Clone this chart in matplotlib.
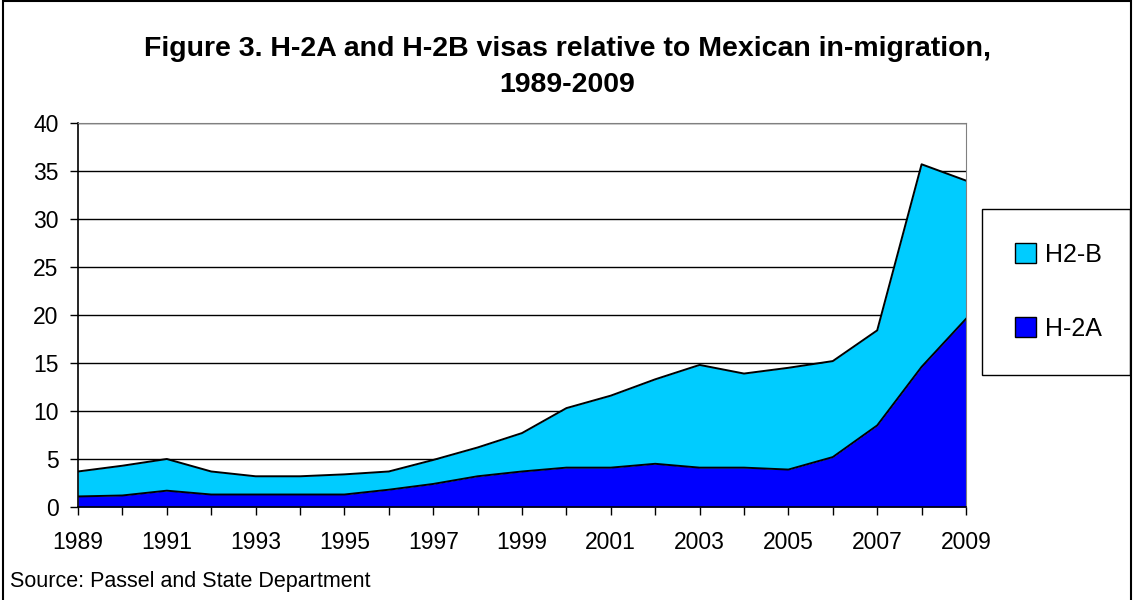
import matplotlib.pyplot as plt
import matplotlib.patches as mpatches
import numpy as np

plt.rcParams["font.family"] = ["Liberation Sans", "DejaVu Sans"]

years = list(range(1989, 2010))
# H-2A share (bottom layer)
h2a = [1.1, 1.2, 1.7, 1.3, 1.3, 1.3, 1.3, 1.8, 2.4, 3.2, 3.7, 4.1, 4.1, 4.5, 4.1, 4.1, 3.9, 5.2, 8.5, 14.6, 19.6]
# stacked total (H-2A + H2-B)
total = [3.7, 4.3, 5.0, 3.7, 3.2, 3.2, 3.4, 3.7, 4.9, 6.2, 7.7, 10.3, 11.6, 13.3, 14.8, 13.9, 14.5, 15.2, 18.4, 35.7, 34.0]
h2b = [t - a for t, a in zip(total, h2a)]

col_a = "#0000FF"
col_b = "#00CCFF"

fig = plt.figure(figsize=(11.34, 6.0), dpi=100)
ax = fig.add_axes([78/1134, 93/600, 888/1134, 384/600])

x = np.array(years)
a = np.array(h2a)
b = np.array(h2b)
ax.fill_between(x, 0, a, color=col_a, lw=0)
ax.fill_between(x, a, a + b, color=col_b, lw=0)
ax.plot(x, a, color="black", lw=1.4)
ax.plot(x, a + b, color="black", lw=1.4)

ax.set_xlim(1989, 2009)
ax.set_ylim(0, 40)
ax.set_yticks(range(0, 41, 5))
ax.set_xticks(years, minor=True)
ax.set_xticks(range(1989, 2010, 2))
ax.tick_params(axis="both", which="both", direction="out", length=6, width=1, color="black", labelsize=16.5)
ax.tick_params(axis="x", pad=11)
ax.tick_params(axis="y", pad=8)
ax.grid(axis="y", color="black", lw=1)
ax.set_axisbelow(True)

for s in ["top", "right"]:
    ax.spines[s].set_color("#808080")
for s in ["left", "bottom"]:
    ax.spines[s].set_color("black")
    ax.spines[s].set_linewidth(1.2)

fig.text(0.5, 1 - 67/600, "Figure 3. H-2A and H-2B visas relative to Mexican in-migration,\n1989-2009",
         ha="center", va="center", fontsize=20.5, fontweight="bold", linespacing=1.5)
fig.text(10/1134, 1 - 582/600, "Source: Passel and State Department", ha="left", va="center", fontsize=15.5)

# legend box
fig.add_artist(mpatches.Rectangle((982/1134, 1 - 375/600), 148/1134, 166/600, transform=fig.transFigure,
                                  facecolor="white", edgecolor="black", lw=1))
handles = [mpatches.Patch(facecolor=col_b, edgecolor="black", label="H2-B"),
           mpatches.Patch(facecolor=col_a, edgecolor="black", label="H-2A")]
leg = fig.legend(handles=handles, loc="center", bbox_to_anchor=(1058/1134, 1 - 292/600),
                 frameon=False, fontsize=18, handlelength=0.85, handleheight=0.85,
                 labelspacing=2.0, handletextpad=0.35)

fig.add_artist(mpatches.Rectangle((3/1134, -0.01), 1 - 6/1134, 1 - 1/600 + 0.01, transform=fig.transFigure,
                                  fill=False, edgecolor="black", lw=1.5))

fig.savefig("out.png", dpi=100)
